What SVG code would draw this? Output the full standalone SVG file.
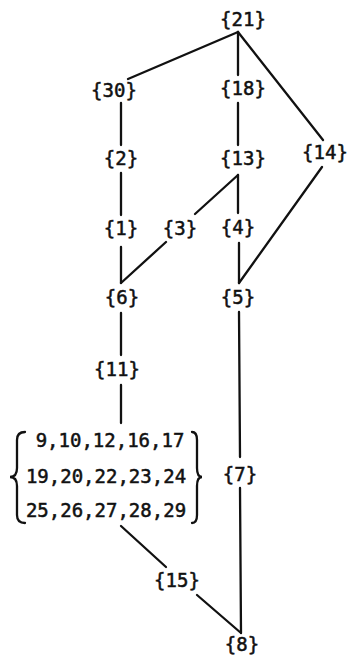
<svg xmlns="http://www.w3.org/2000/svg" width="348" height="658" viewBox="0 0 348 658">
<style>
text{font-family:"DejaVu Sans Mono","Liberation Mono",monospace;font-size:19px;fill:#111;stroke:#111;stroke-width:0.5;text-anchor:middle}
.e{stroke:#111;stroke-width:2.3;fill:none;stroke-linecap:round}
</style>
<rect width="348" height="658" fill="#fff"/>
<g id="connectors" class="e">
<line x1="238" y1="32" x2="128" y2="79"/>
<line x1="238" y1="32" x2="238" y2="75"/>
<line x1="238" y1="32" x2="323" y2="140"/>
<line x1="121" y1="103" x2="121" y2="145"/>
<line x1="238" y1="103" x2="238" y2="145"/>
<line x1="121" y1="173" x2="121" y2="215"/>
<line x1="238" y1="175" x2="195" y2="214"/>
<line x1="238" y1="175" x2="238" y2="213"/>
<line x1="322" y1="167" x2="239" y2="283"/>
<line x1="121" y1="247" x2="121" y2="283"/>
<line x1="166" y1="242" x2="121" y2="283"/>
<line x1="239" y1="243" x2="239" y2="283"/>
<line x1="121" y1="313" x2="121" y2="355"/>
<line x1="121" y1="385" x2="121" y2="423"/>
<line x1="239" y1="312" x2="240" y2="457"/>
<line x1="240" y1="488" x2="241" y2="633"/>
<line x1="121" y1="526" x2="166" y2="567"/>
<line x1="197" y1="595" x2="241" y2="633"/>
</g>
<g id="n21"><text x="243" y="26">{21}</text></g>
<g id="n30"><text x="114" y="97">{30}</text></g>
<g id="n18"><text x="243" y="95">{18}</text></g>
<g id="n14"><text x="325" y="159">{14}</text></g>
<g id="n2"><text x="121" y="165">{2}</text></g>
<g id="n13"><text x="243" y="165">{13}</text></g>
<g id="n1"><text x="121" y="235">{1}</text></g>
<g id="n3"><text x="180" y="235">{3}</text></g>
<g id="n4"><text x="238" y="234">{4}</text></g>
<g id="n6"><text x="122" y="304">{6}</text></g>
<g id="n5"><text x="238" y="304">{5}</text></g>
<g id="n11"><text x="117" y="376">{11}</text></g>
<g id="nset">
<path class="e" d="M25,432 Q17,432 17,440 L17,468 Q17,477 10,477 Q17,477 17,486 L17,515 Q17,523 25,523"/>
<path class="e" d="M192,432 Q197,432 197,440 L197,468 Q197,477 202,477 Q197,477 197,486 L197,515 Q197,523 192,523"/>
<text x="110" y="447">9,10,12,16,17</text>
<text x="106" y="483">19,20,22,23,24</text>
<text x="106" y="517">25,26,27,28,29</text>
</g>
<g id="n7"><text x="240" y="481">{7}</text></g>
<g id="n15"><text x="177" y="587">{15}</text></g>
<g id="n8"><text x="242" y="651">{8}</text></g>
</svg>
